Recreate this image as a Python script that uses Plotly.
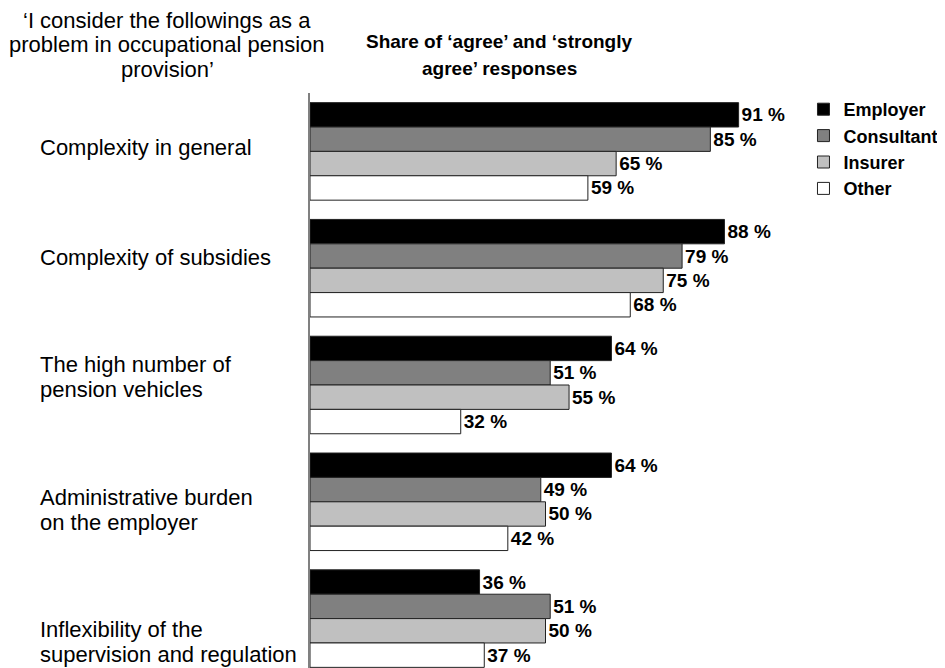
import plotly.graph_objects as go

categories = [
    "Complexity in general",
    "Complexity of subsidies",
    "The high number of<br>pension vehicles",
    "Administrative burden<br>on the employer",
    "Inflexibility of the<br>supervision and regulation",
]
series_names = ["Employer", "Consultant", "Insurer", "Other"]
employer = [91, 88, 64, 64, 36]
consultant = [85, 79, 51, 49, 51]
insurer = [65, 75, 55, 50, 50]
other = [59, 68, 32, 42, 37]
values = [employer, consultant, insurer, other]
colors = ["#000000", "#808080", "#C0C0C0", "#FFFFFF"]

left_title = ["‘I consider the followings as a", "problem in occupational pension", "provision’"]
right_title = ["Share of ‘agree’ and ‘strongly", "agree’ responses"]

# canvas (page has an 8px body margin)
W, H = 937, 660
L, R, T, B = 302, 163.5, 85, 0
PW, PH = W - L - R, H - T - B

def px_x(px):
    return (px - L) / PW

def px_y(py):
    return (H - B - py) / PH

FONT = "Liberation Sans, Arial, sans-serif"

fig = go.Figure()
for name, vals, col in zip(series_names, values, colors):
    fig.add_trace(go.Bar(
        y=list(range(len(categories))), x=vals, orientation="h", name=name,
        marker=dict(color=col, line=dict(color="#222222", width=1)),
        text=[f"{v} %" for v in vals], textposition="outside",
        textfont=dict(family=FONT, size=19, color="#000000", weight="bold"),
        cliponaxis=False,
    ))

# category labels, left aligned, line by line (tight line spacing)
label_shift = [4, 11, 8, -8, -23]
LINE = 25
annotations = []
for i, (c, s) in enumerate(zip(categories, label_shift)):
    lines = c.split("<br>")
    n = len(lines)
    for k, ln in enumerate(lines):
        off = ((n - 1) / 2 - k) * LINE
        annotations.append(dict(
            x=px_x(30), xref="paper", y=i, yref="y", text=ln, showarrow=False,
            xanchor="left", yanchor="middle", align="left", yshift=s + off,
            font=dict(family=FONT, size=22, color="#000000"),
        ))

for k, ln in enumerate(left_title):
    annotations.append(dict(
        x=px_x(159), xref="paper", y=px_y(12 + 25 * k), yref="paper",
        text=ln, showarrow=False, xanchor="center", yanchor="middle",
        font=dict(family=FONT, size=22, color="#000000"),
    ))
for k, ln in enumerate(right_title):
    annotations.append(dict(
        x=px_x(492), xref="paper", y=px_y(34 + 26 * k), yref="paper",
        text=ln, showarrow=False, xanchor="center", yanchor="middle",
        font=dict(family=FONT, size=19, color="#000000", weight="bold"),
    ))

fig.update_layout(
    width=W, height=H,
    margin=dict(l=L, r=R, t=T, b=B, pad=0, autoexpand=False),
    paper_bgcolor="white", plot_bgcolor="white",
    barmode="group", bargap=0.165, bargroupgap=0,
    xaxis=dict(range=[0, 100], visible=False, fixedrange=True),
    yaxis=dict(range=[4.423, -0.5], showticklabels=False, ticks="",
               showgrid=False, zeroline=False, showline=True,
               linecolor="#808080", linewidth=2, fixedrange=True),
    legend=dict(x=px_x(796), y=px_y(83), xanchor="left", yanchor="top",
                traceorder="normal", itemwidth=30,
                font=dict(family=FONT, size=18, color="#000000", weight="bold"),
                bgcolor="rgba(0,0,0,0)"),
    annotations=annotations,
    showlegend=True,
)

fig.write_html("out.html", config={"displayModeBar": False})
